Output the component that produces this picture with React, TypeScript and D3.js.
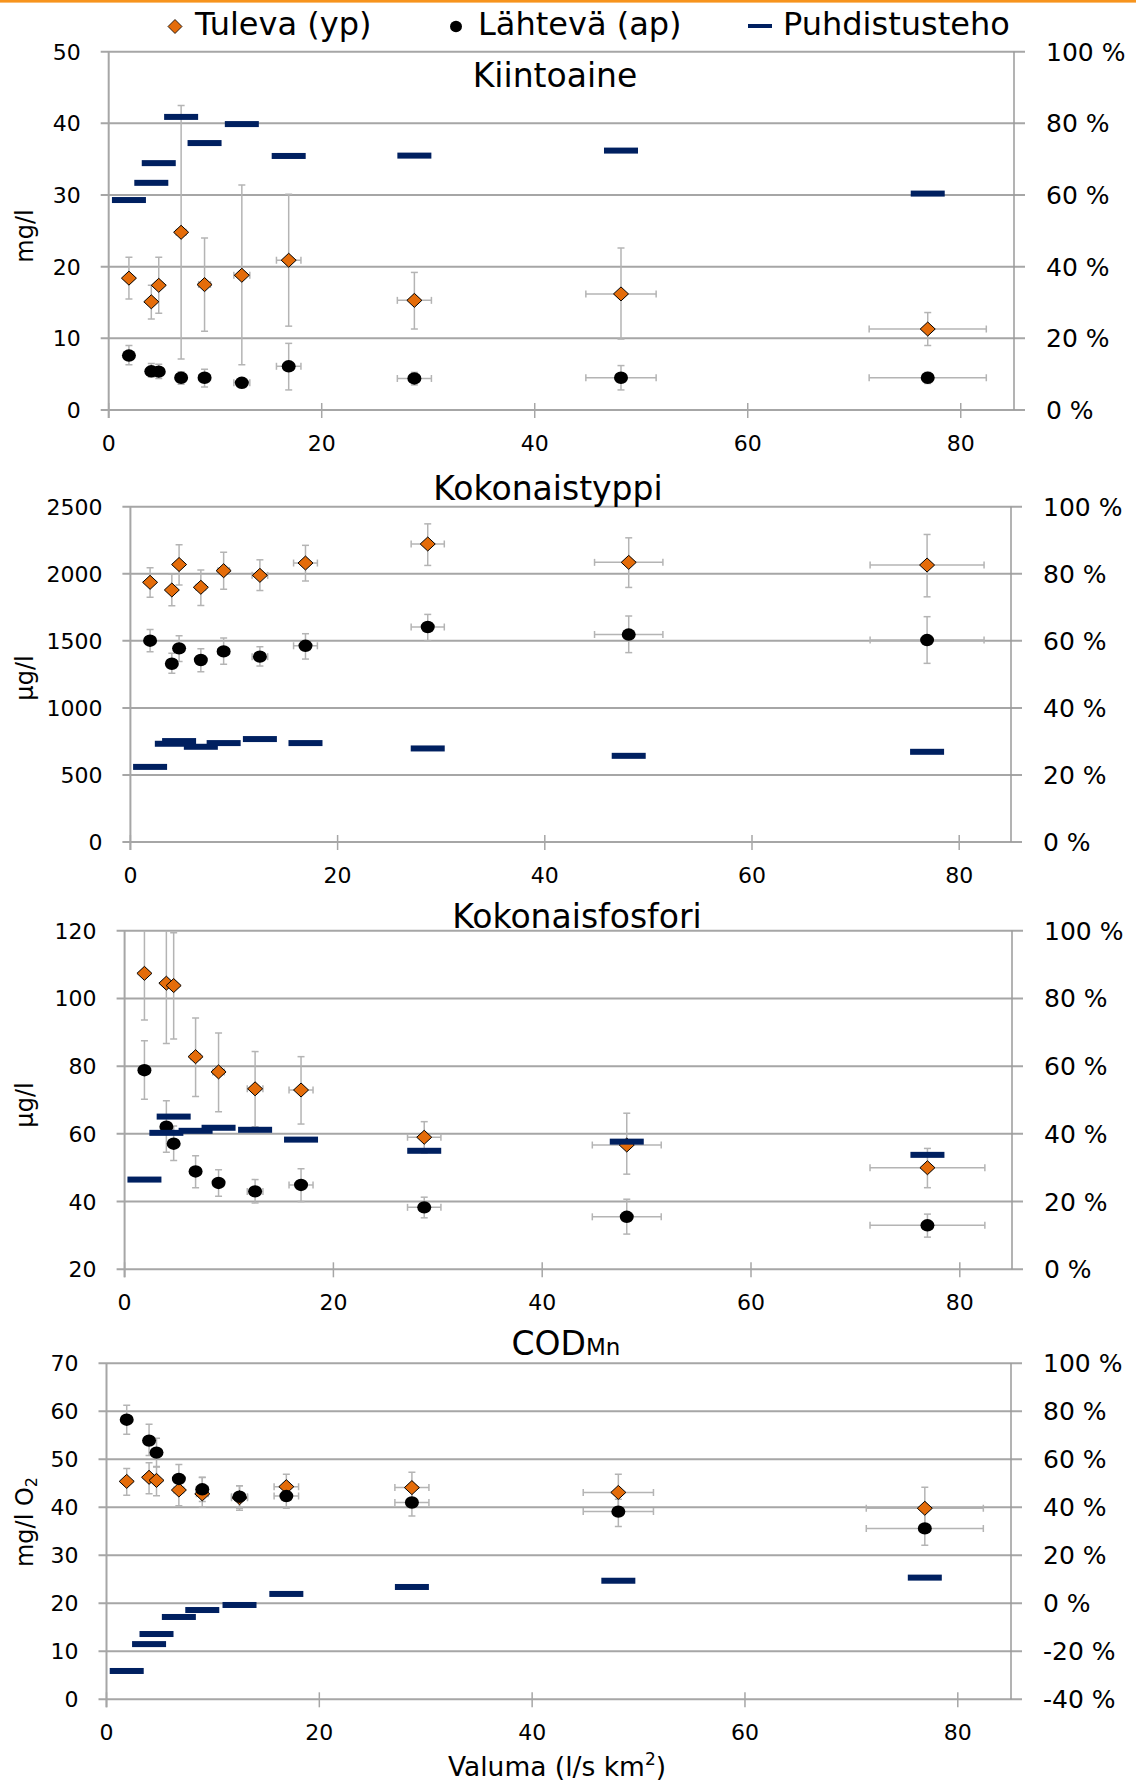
import React from 'react';
import * as d3 from 'd3';

const FONT = "'DejaVu Sans', 'Noto Sans', sans-serif";
const ORANGE = '#E46C0A';
const NAVY = '#002060';
const GRID = '#A6A6A6';
const ERR = '#B4B4B4';

// Valuma (l/s km2), shared by all panels
const valuma = [1.9, 4.0, 4.7, 6.8, 9.0, 12.5, 16.9, 28.7, 48.1, 76.9];
const valumaErr = [0.25, 0.3, 0.35, 0.45, 0.55, 0.75, 1.15, 1.6, 3.3, 5.5];
const xTicks = [0, 20, 40, 60, 80];

// Kiintoaine (mg/l)
const ssIn = [18.4, 15.1, 17.4, 24.8, 17.5, 18.8, 20.9, 15.3, 16.2, 11.3];
const ssInHi = [21.3, 17.4, 21.3, 42.5, 24.0, 31.4, 30.1, 19.2, 22.6, 13.6];
const ssInLo = [15.5, 12.7, 13.5, 7.1, 11.0, 6.3, 11.7, 11.3, 9.9, 9.0];
const ssOut = [7.6, 5.4, 5.35, 4.5, 4.5, 3.8, 6.1, 4.4, 4.5, 4.5];
const ssOutHi = [9.0, 6.5, 6.4, 5.35, 5.7, 4.4, 9.3, 5.25, 6.2, 5.25];
const ssOutLo = [6.3, 4.6, 4.4, 3.6, 3.2, 3.1, 2.8, 3.5, 2.8, 3.7];
const ssEff = [58.6, 63.4, 68.9, 81.8, 74.5, 79.8, 70.9, 71.0, 72.4, 60.4];

// Kokonaistyppi (µg/l)
const tnIn = [1936, 1879, 2069, 1899, 2023, 1988, 2080, 2222, 2085, 2065];
const tnInHi = [2045, 1996, 2216, 2028, 2160, 2104, 2212, 2372, 2268, 2293];
const tnInLo = [1824, 1762, 1916, 1764, 1884, 1875, 1946, 2062, 1898, 1828];
const tnOut = [1501, 1329, 1444, 1357, 1421, 1382, 1463, 1603, 1547, 1506];
const tnOutHi = [1585, 1407, 1537, 1441, 1521, 1456, 1553, 1697, 1685, 1680];
const tnOutLo = [1418, 1258, 1346, 1270, 1325, 1312, 1364, 1501, 1412, 1332];
const tnEff = [22.4, 29.3, 30.1, 28.4, 29.5, 30.7, 29.5, 27.9, 25.7, 26.9];

// Kokonaisfosfori (µg/l)
const tpIn = [107.4, 104.5, 103.8, 82.8, 78.3, 73.3, 72.95, 59.0, 56.7, 50.0];
const tpInHi = [124, 122.5, 119.4, 94.2, 89.8, 84.3, 82.8, 63.6, 66.1, 55.7];
const tpInLo = [93.6, 86.7, 88.0, 71.0, 66.5, 62.1, 62.9, 54.3, 48.1, 44.1];
const tpOut = [78.8, 62.1, 57.1, 48.9, 45.5, 43.0, 44.9, 38.3, 35.5, 33.0];
const tpOutHi = [87.5, 69.8, 62.3, 53.5, 49.4, 46.5, 49.7, 41.3, 40.7, 36.3];
const tpOutLo = [70.2, 54.6, 52.1, 44.1, 41.6, 39.6, 40.0, 35.2, 30.4, 29.5];
const tpEff = [26.5, 40.3, 45.1, 40.9, 41.8, 41.2, 38.3, 35.0, 37.7, 33.8];

// CODMn (mg/l O2)
const codIn = [45.4, 46.25, 45.6, 43.6, 42.8, 42.0, 44.3, 44.1, 43.1, 39.8];
const codInHi = [48.1, 49.3, 48.4, 46.2, 46.2, 44.5, 46.9, 47.3, 46.9, 44.2];
const codInLo = [42.5, 42.8, 42.4, 40.3, 40.0, 39.4, 41.4, 41.2, 39.4, 35.4];
const codOut = [58.25, 53.9, 51.4, 45.9, 43.75, 42.2, 42.35, 41.0, 39.1, 35.6];
const codOutHi = [61.25, 57.3, 54.4, 48.9, 46.25, 44.5, 45.1, 43.6, 41.7, 39.8];
const codOutLo = [55.2, 50.8, 48.5, 42.9, 41.2, 39.8, 39.8, 38.2, 36.0, 32.1];
const codEff = [-28.2, -17.0, -12.8, -5.7, -2.8, -0.7, 3.9, 6.8, 9.4, 10.7];

const legendLabels = ['Tuleva (yp)', 'Lähtevä (ap)', 'Puhdistusteho'];

type Spec = {
  id: string;
  title: React.ReactNode;
  titleX: number;
  titleY: number;
  yLabel: React.ReactNode;
  yLabelY: number;
  left: number;
  right: number;
  top: number;
  bottom: number;
  yDomain: [number, number];
  yStep: number;
  y2Domain: [number, number];
  y2Step: number;
  inV: number[];
  inHi: number[];
  inLo: number[];
  outV: number[];
  outHi: number[];
  outLo: number[];
  eff: number[];
};

function ErrorBars({ x, y, vals, hi, lo }: any) {
  const cap = 3.5;
  return (
    <g stroke={ERR} strokeWidth={1.5} fill="none">
      {valuma.map((v, i) => {
        const cx = x(v);
        const cy = y(vals[i]);
        const yh = y(hi[i]);
        const yl = y(lo[i]);
        const xl = x(v - valumaErr[i]);
        const xr = x(v + valumaErr[i]);
        return (
          <g key={i}>
            <line x1={cx} x2={cx} y1={yh} y2={yl} />
            <line x1={cx - cap} x2={cx + cap} y1={yh} y2={yh} />
            <line x1={cx - cap} x2={cx + cap} y1={yl} y2={yl} />
            <line x1={xl} x2={xr} y1={cy} y2={cy} />
            <line x1={xl} x2={xl} y1={cy - cap} y2={cy + cap} />
            <line x1={xr} x2={xr} y1={cy - cap} y2={cy + cap} />
          </g>
        );
      })}
    </g>
  );
}

function Panel({ s }: { s: Spec }) {
  const x = d3.scaleLinear().domain([0, 85]).range([s.left, s.right]);
  const y = d3.scaleLinear().domain(s.yDomain).range([s.bottom, s.top]);
  const y2 = d3.scaleLinear().domain(s.y2Domain).range([s.bottom, s.top]);
  const yTicks = d3.range(s.yDomain[0], s.yDomain[1] + s.yStep / 2, s.yStep);
  const y2Ticks = d3.range(s.y2Domain[0], s.y2Domain[1] + s.y2Step / 2, s.y2Step);
  const clipId = 'clip-' + s.id;
  const diamond = (cx: number, cy: number) =>
    `M${cx},${cy - 7}L${cx + 7.5},${cy}L${cx},${cy + 7}L${cx - 7.5},${cy}Z`;
  return (
    <g>
      <defs>
        <clipPath id={clipId}>
          <rect x={s.left - 20} y={s.top} width={s.right - s.left + 40} height={s.bottom - s.top + 20} />
        </clipPath>
      </defs>
      {yTicks.map((t) => (
        <line key={'g' + t} x1={s.left - 8} x2={s.right + 11} y1={y(t)} y2={y(t)} stroke={GRID} strokeWidth={2} />
      ))}
      <line x1={s.left} x2={s.left} y1={s.top} y2={s.bottom + 8} stroke={GRID} strokeWidth={2} />
      <line x1={s.right} x2={s.right} y1={s.top} y2={s.bottom} stroke="#9A9A9A" strokeWidth={1.5} />
      {xTicks.map((t) => (
        <line key={'xt' + t} x1={x(t)} x2={x(t)} y1={s.bottom - 7} y2={s.bottom + 8} stroke={GRID} strokeWidth={1.5} />
      ))}
      <g fontFamily={FONT} fill="#000">
        {yTicks.map((t) => (
          <text key={'yl' + t} x={s.left - 28} y={y(t)} dy="0.36em" textAnchor="end" fontSize={22}>
            {t}
          </text>
        ))}
        {y2Ticks.map((t) => (
          <text key={'y2l' + t} x={s.right + 32} y={y2(t)} dy="0.36em" textAnchor="start" fontSize={25}>
            {`${t} %`}
          </text>
        ))}
        {xTicks.map((t) => (
          <text key={'xl' + t} x={x(t)} y={s.bottom + 33} dy="0.36em" textAnchor="middle" fontSize={22}>
            {t}
          </text>
        ))}
        <text x={s.titleX} y={s.titleY} textAnchor="middle" fontSize={33}>
          {s.title}
        </text>
        <text
          transform={`translate(${33},${s.yLabelY}) rotate(-90)`}
          textAnchor="middle"
          fontSize={24}
        >
          {s.yLabel}
        </text>
      </g>
      <g clipPath={`url(#${clipId})`}>
        <ErrorBars x={x} y={y} vals={s.inV} hi={s.inHi} lo={s.inLo} />
        <ErrorBars x={x} y={y} vals={s.outV} hi={s.outHi} lo={s.outLo} />
      </g>
      {valuma.map((v, i) => (
        <path key={'d' + i} d={diamond(x(v), y(s.inV[i]))} fill={ORANGE} stroke="#000" strokeWidth={1} />
      ))}
      {valuma.map((v, i) => (
        <ellipse key={'c' + i} cx={x(v)} cy={y(s.outV[i])} rx={7} ry={6.2} fill="#000" />
      ))}
      {valuma.map((v, i) => (
        <rect key={'e' + i} x={x(v) - 17} y={y2(s.eff[i]) - 3} width={34} height={6} fill={NAVY} />
      ))}
    </g>
  );
}

const specs: Spec[] = [
  {
    id: 'ss',
    title: 'Kiintoaine',
    titleX: 555,
    titleY: 87,
    yLabel: 'mg/l',
    yLabelY: 236,
    left: 108.7,
    right: 1014,
    top: 51.7,
    bottom: 410,
    yDomain: [0, 50],
    yStep: 10,
    y2Domain: [0, 100],
    y2Step: 20,
    inV: ssIn, inHi: ssInHi, inLo: ssInLo,
    outV: ssOut, outHi: ssOutHi, outLo: ssOutLo,
    eff: ssEff,
  },
  {
    id: 'tn',
    title: 'Kokonaistyppi',
    titleX: 548,
    titleY: 500,
    yLabel: 'µg/l',
    yLabelY: 678,
    left: 130.4,
    right: 1011,
    top: 506.7,
    bottom: 842,
    yDomain: [0, 2500],
    yStep: 500,
    y2Domain: [0, 100],
    y2Step: 20,
    inV: tnIn, inHi: tnInHi, inLo: tnInLo,
    outV: tnOut, outHi: tnOutHi, outLo: tnOutLo,
    eff: tnEff,
  },
  {
    id: 'tp',
    title: 'Kokonaisfosfori',
    titleX: 577,
    titleY: 928,
    yLabel: 'µg/l',
    yLabelY: 1105,
    left: 124.6,
    right: 1012,
    top: 930.7,
    bottom: 1269.3,
    yDomain: [20, 120],
    yStep: 20,
    y2Domain: [0, 100],
    y2Step: 20,
    inV: tpIn, inHi: tpInHi, inLo: tpInLo,
    outV: tpOut, outHi: tpOutHi, outLo: tpOutLo,
    eff: tpEff,
  },
  {
    id: 'cod',
    title: (
      <>
        <tspan>COD</tspan>
        <tspan fontSize={23}>Mn</tspan>
      </>
    ),
    titleX: 566,
    titleY: 1355,
    yLabel: (
      <>
        <tspan>mg/l O</tspan>
        <tspan fontSize={16} dy={4}>2</tspan>
      </>
    ),
    yLabelY: 1522,
    left: 106.5,
    right: 1011,
    top: 1363.3,
    bottom: 1699.3,
    yDomain: [0, 70],
    yStep: 10,
    y2Domain: [-40, 100],
    y2Step: 20,
    inV: codIn, inHi: codInHi, inLo: codInLo,
    outV: codOut, outHi: codOutHi, outLo: codOutLo,
    eff: codEff,
  },
];

export default function App() {
  return (
    <svg
      width={1136}
      height={1784}
      viewBox="0 0 1136 1784"
      style={{ position: 'absolute', left: 0, top: 0, display: 'block', background: '#fff' }}
    >
      <rect x={0} y={0} width={1136} height={1784} fill="#fff" />
      <rect x={0} y={0} width={1136} height={2.6} fill="#F7941D" />
      <g fontFamily={FONT} fontSize={32} fill="#000">
        <path d="M175,19.5L182,26.5L175,33.5L168,26.5Z" fill={ORANGE} stroke="#000" strokeWidth={0.8} />
        <text x={195} y={35}>{legendLabels[0]}</text>
        <ellipse cx={456} cy={26.5} rx={6} ry={5.8} fill="#000" />
        <text x={478} y={35}>{legendLabels[1]}</text>
        <rect x={748} y={24} width={24} height={4} fill={NAVY} />
        <text x={783} y={35}>{legendLabels[2]}</text>
      </g>
      {specs.map((s) => (
        <Panel key={s.id} s={s} />
      ))}
      <text x={557} y={1776} textAnchor="middle" fontFamily={FONT} fontSize={26.5} fill="#000">
        <tspan>Valuma (l/s km</tspan>
        <tspan fontSize={17} dy={-11}>2</tspan>
        <tspan dy={11}>)</tspan>
      </text>
    </svg>
  );
}
